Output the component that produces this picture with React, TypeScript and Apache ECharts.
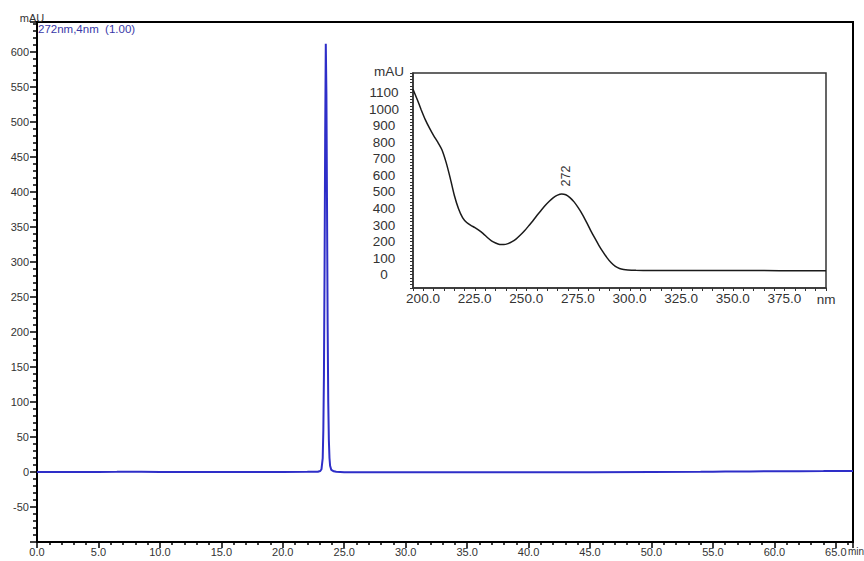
import React, { useEffect, useRef } from "react";
import * as echarts from "echarts";

// Chromatogram (main plot): retention time (min) vs absorbance (mAU)
const chromTime = [
  0, 2, 4, 5, 6.5, 7, 8, 8.5, 10, 12, 15, 18, 20, 22, 22.85, 23.05, 23.15, 23.25, 23.3, 23.35,
  23.4, 23.45, 23.5, 23.55, 23.6, 23.65, 23.7, 23.75, 23.8, 23.85, 23.95, 24.15, 24.35, 25,
  30, 35, 40, 45, 50, 54, 55, 56, 58, 60, 62, 64, 66.4,
];
const chromAbs = [
  0, 0.1, 0.1, 0.1, 0.3, 0.5, 0.3, 0.4, 0.1, 0, 0, 0.1, 0.1, 0.2, 0.3, 1.5, 4, 20, 60, 140,
  290, 480, 612, 540, 380, 210, 100, 45, 20, 9, 3, 1, 0.3, -0.2,
  -0.3, -0.4, -0.3, -0.2, 0, 0.2, 0.5, 0.7, 0.8, 1.2, 1.1, 1.3, 1.6,
];

// UV spectrum (inset): wavelength (nm) vs absorbance (mAU)
const specNm = [
  200, 202, 204, 206, 208, 210, 212, 214, 216, 218, 220, 222, 224, 226, 228, 230, 232, 234,
  236, 238, 240, 242, 244, 246, 248, 250, 252, 254, 256, 258, 260, 262, 264, 266, 268, 270,
  272, 274, 276, 278, 280, 282, 284, 286, 288, 290, 292, 294, 296, 298, 300, 302, 304, 308,
  315, 330, 350, 370, 385, 400,
];
const specAbs = [
  1120, 1060, 995, 935, 885, 840, 800, 755, 680, 585, 480, 400, 345, 315, 298, 285, 268, 248,
  225, 205, 192, 183, 182, 188, 200, 217, 240, 265, 295, 325, 358, 388, 418, 444, 466, 481,
  488, 483, 466, 440, 405, 365, 318, 268, 222, 178, 138, 102, 72, 50, 38, 32, 29, 27,
  26, 25, 25, 25, 24, 24,
];

const peakLabel = "272";
const channelLabel = "272nm,4nm  (1.00)";

const FONT = "'Liberation Sans', Arial, sans-serif";

export default function App() {
  const ref = useRef<HTMLDivElement>(null);

  useEffect(() => {
    if (!ref.current) return;
    const chart = echarts.init(ref.current, undefined, { renderer: "svg" });

    const chromData = chromTime.map((t, i) => [t, chromAbs[i]]);
    const specData = specNm.map((w, i) => [w, specAbs[i]]);

    const mainLabel = { color: "#333", fontSize: 11, fontFamily: FONT };
    const insetLabel = { color: "#333", fontSize: 13.5, fontFamily: FONT };

    chart.setOption({
      animation: false,
      backgroundColor: "#fff",
      grid: [
        {
          left: 37, right: 11, top: 22, bottom: 19,
          show: true, borderColor: "#000", borderWidth: 2, backgroundColor: "transparent",
        },
        {
          left: 413, right: 38, top: 73, bottom: 273,
          show: true, borderColor: "#333", borderWidth: 1.5, backgroundColor: "#fff",
        },
      ],
      xAxis: [
        {
          type: "value", gridIndex: 0, min: 0, max: 66.4, interval: 5,
          axisLine: { show: true, onZero: false, lineStyle: { color: "#000", width: 2 } },
          axisTick: { show: true, length: 6, lineStyle: { color: "#000", width: 1.5 } },
          minorTick: { show: true, splitNumber: 5, length: 3, lineStyle: { color: "#000", width: 1.5 } },
          splitLine: { show: false },
          axisLabel: {
            ...mainLabel, margin: 4,
            formatter: (v: number) => (Math.abs(v % 5) < 1e-6 ? v.toFixed(1) : ""),
          },
        },
        {
          type: "value", gridIndex: 1, min: 200, max: 400, interval: 5,
          axisLine: { show: true, onZero: false, lineStyle: { color: "#333", width: 1.5 } },
          axisTick: { show: true, length: 3, lineStyle: { color: "#333", width: 1 } },
          splitLine: { show: false },
          axisLabel: {
            ...insetLabel, margin: 3, padding: [0, 0, 0, 20],
            interval: 0,
            formatter: (v: number) => (v % 25 === 0 && v < 400 ? v.toFixed(1) : ""),
          },
        },
      ],
      yAxis: [
        {
          type: "value", gridIndex: 0, min: -100, max: 643, interval: 50,
          axisLine: { show: true, onZero: false, lineStyle: { color: "#000", width: 2 } },
          axisTick: { show: true, length: 7, lineStyle: { color: "#000", width: 1.5 } },
          minorTick: { show: true, splitNumber: 5, length: 4, lineStyle: { color: "#000", width: 1.5 } },
          splitLine: { show: false },
          axisLabel: {
            ...mainLabel, margin: 8, showMinLabel: false,
            formatter: (v: number) => (v % 50 === 0 ? String(v) : ""),
          },
        },
        {
          type: "value", gridIndex: 1, min: -80, max: 1218, interval: 20,
          axisLine: { show: true, onZero: false, lineStyle: { color: "#333", width: 1.5 } },
          axisTick: { show: true, length: 3, lineStyle: { color: "#333", width: 1 } },
          splitLine: { show: false },
          axisLabel: {
            ...insetLabel, margin: 29, align: "center",
            formatter: (v: number) => (v % 100 === 0 && v >= 0 && v <= 1100 ? String(v) : ""),
          },
        },
      ],
      series: [
        {
          type: "line", xAxisIndex: 0, yAxisIndex: 0, data: chromData,
          showSymbol: false, symbol: "none",
          lineStyle: { color: "#2e2ec8", width: 2 },
        },
        {
          type: "line", xAxisIndex: 1, yAxisIndex: 1, data: specData,
          showSymbol: false, symbol: "none", smooth: 0.2,
          lineStyle: { color: "#1a1a1a", width: 1.5 },
        },
      ],
      graphic: [
        {
          type: "text", x: 32, y: 18,
          style: { text: "mAU", fill: "#333", fontSize: 11, fontFamily: FONT, align: "center", verticalAlign: "middle" },
        },
        {
          type: "text", x: 38, y: 29,
          style: { text: channelLabel, fill: "#3838a8", fontSize: 11.5, fontFamily: FONT, align: "left", verticalAlign: "middle" },
        },
        {
          type: "text", x: 856, y: 551,
          style: { text: "min", fill: "#333", fontSize: 10, fontFamily: FONT, align: "center", verticalAlign: "middle" },
        },
        {
          type: "text", x: 389, y: 71,
          style: { text: "mAU", fill: "#333", fontSize: 13.5, fontFamily: FONT, align: "center", verticalAlign: "middle" },
        },
        {
          type: "text", x: 826, y: 299,
          style: { text: "nm", fill: "#333", fontSize: 13.5, fontFamily: FONT, align: "center", verticalAlign: "middle" },
        },
        {
          type: "text", x: 566, y: 176, rotation: Math.PI / 2,
          style: { text: peakLabel, fill: "#333", fontSize: 12.5, fontFamily: FONT, align: "center", verticalAlign: "middle" },
        },
      ],
    });

    return () => chart.dispose();
  }, []);

  return (
    <div
      ref={ref}
      style={{ position: "fixed", left: 0, top: 0, width: 864, height: 561, background: "#fff" }}
    />
  );
}
